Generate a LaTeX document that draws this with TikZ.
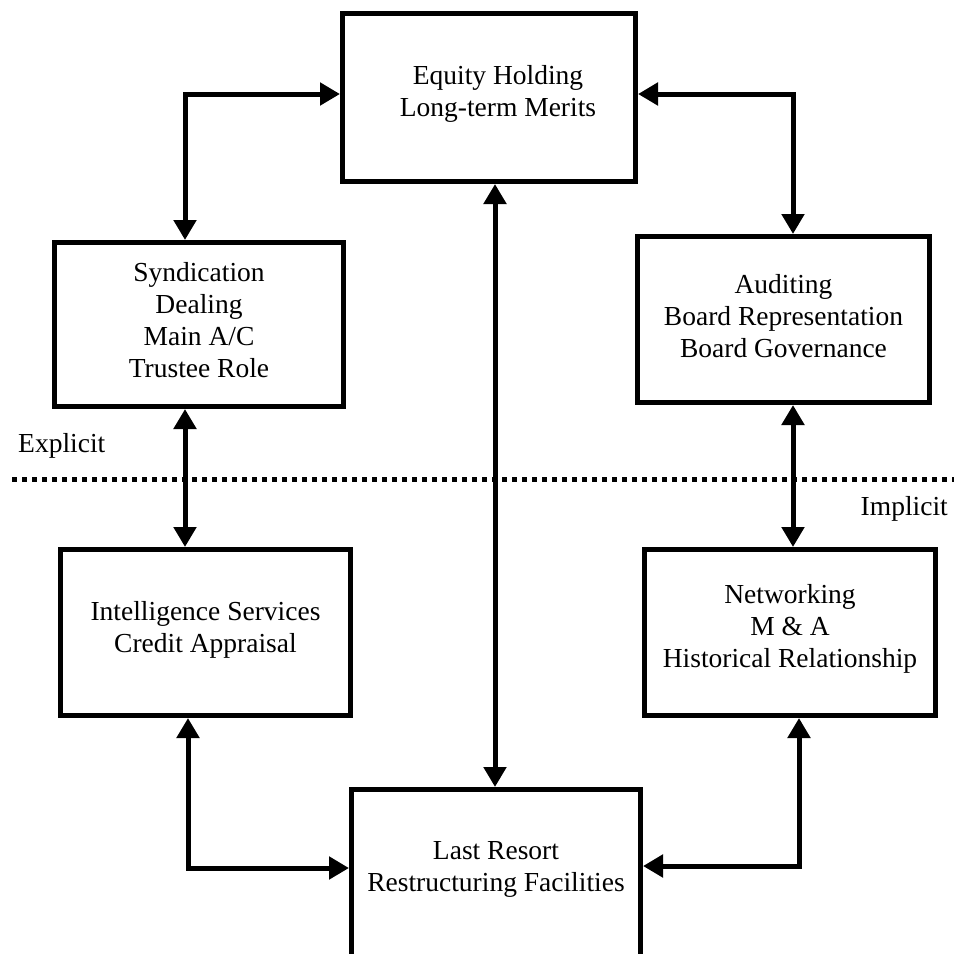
\documentclass[tikz,border=0pt]{standalone}
\usepackage{fontspec}
\setmainfont{Liberation Serif}
\usetikzlibrary{arrows.meta}
\newcommand\sinkdepth[1]{\rule[-#1]{0pt}{#1}}
\begin{document}
\begin{tikzpicture}[x=1pt,y=-1pt,
  box/.style={draw,line width=5pt,inner sep=0pt,align=center,
    font=\fontsize{27.5}{32}\selectfont},
  tag/.style={inner sep=0pt,font=\fontsize{27.5}{32}\selectfont},
  dbl/.style={line width=5pt,
    {Triangle[length=20pt,width=22pt]}-{Triangle[length=20pt,width=22pt]}},
  sep/.style={line width=5pt,dash pattern=on 5pt off 5pt}]
\useasboundingbox (0,0) rectangle (954,954);
\clip (0,0) rectangle (954,954);
% boxes
\node[box,minimum width=293pt,minimum height=168pt] (eq) at (489,97.5)
  {\hspace*{18pt}Equity Holding\\\hspace*{18pt}Long-term Merits\sinkdepth{14pt}};
\node[box,minimum width=289pt,minimum height=164pt] (syn) at (199,324.5)
  {Syndication\\Dealing\\Main A/C\\Trustee Role\sinkdepth{9pt}};
\node[box,minimum width=292pt,minimum height=166pt] (aud) at (783.5,319.5)
  {Auditing\\Board Representation\\Board Governance\sinkdepth{8pt}};
\node[box,minimum width=290pt,minimum height=166pt] (intel) at (205.5,632.5)
  {Intelligence Services\\Credit Appraisal\sinkdepth{12pt}};
\node[box,minimum width=291pt,minimum height=166pt] (net) at (790,632.5)
  {Networking\\M \& A\\Historical Relationship\sinkdepth{13pt}};
\node[box,minimum width=289pt,minimum height=185pt] (last) at (496,882)
  {Last Resort\\Restructuring Facilities\sinkdepth{32pt}};
% labels
\node[tag,anchor=base west] (expl) at (18,452) {Explicit};
\node[tag,anchor=base east] (impl) at (948,515) {Implicit};
% separator
\coordinate (sepL) at (12,479);
\coordinate (sepR) at (954,479);
\draw[sep] (sepL) -- (sepR);
% bend coordinates
\coordinate (bl) at (185,94);
\coordinate (br) at (793,94);
\coordinate (bc) at (495,500);
\coordinate (bll) at (188,868);
\coordinate (brr) at (799,866);
% connectors
\draw[dbl] (syn.north -| bl) |- (eq.west |- bl);
\draw[dbl] (eq.east |- br) -| (aud.north -| br);
\draw[dbl] (syn.south -| bl) -- (intel.north -| bl);
\draw[dbl] (aud.south -| br) -- (net.north -| br);
\draw[dbl] (eq.south -| bc) -- (last.north -| bc);
\draw[dbl] (intel.south -| bll) |- (last.west |- bll);
\draw[dbl] (net.south -| brr) |- (last.east |- brr);
\end{tikzpicture}
\end{document}
